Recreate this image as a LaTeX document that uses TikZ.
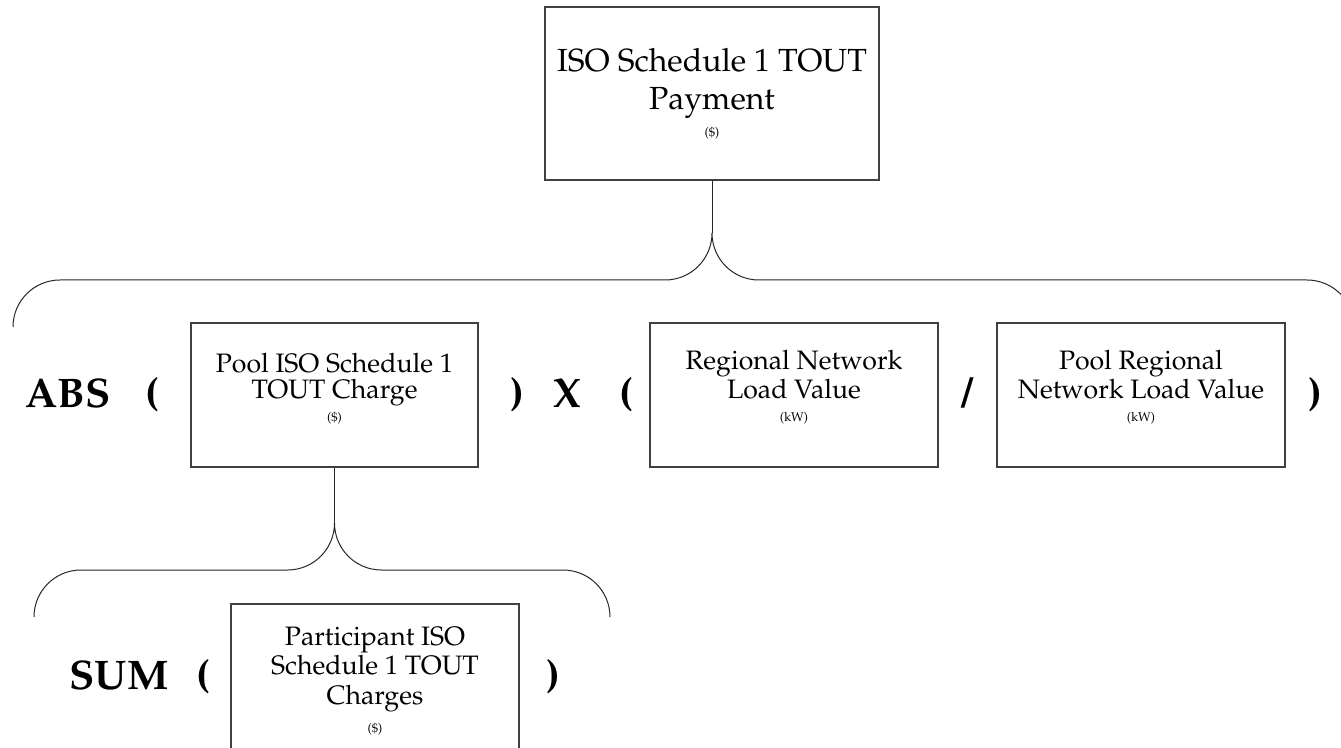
\documentclass[tikz,border=0pt]{standalone}
\usepackage[T1]{fontenc}
\usepackage{mathpazo}
\begin{document}
\begin{tikzpicture}[x=0.75pt,y=-0.75pt,
  box/.style={draw=black!75, line width=0.8pt, inner sep=0pt},
  bigtxt/.style={anchor=base, align=center, inner sep=0pt, font=\fontsize{24}{28.5}\selectfont},
  midtxt/.style={anchor=base, align=center, inner sep=0pt, font=\fontsize{20}{19}\selectfont},
  partxt/.style={anchor=base, align=center, inner sep=0pt, font=\fontsize{20}{22}\selectfont},
  unit/.style={anchor=base, inner sep=0pt, font=\fontsize{9.5}{11}\selectfont},
  op/.style={anchor=base, inner sep=0pt, font=\fontsize{31}{31}\selectfont\bfseries},
  link/.style={line width=0.75pt, black!85}]
\useasboundingbox (0,0) rectangle (1341,748);
\clip (0,0) rectangle (1341,748);

% boxes
\node[box, minimum width=250.5pt, minimum height=129.75pt] (top) at (712,93.5) {};
\node[box, minimum width=215.25pt, minimum height=108pt] (pool) at (334.5,395) {};
\node[box, minimum width=216pt, minimum height=108pt] (reg) at (794,395) {};
\node[box, minimum width=216pt, minimum height=108pt] (preg) at (1141,395) {};
\node[box, minimum width=216pt, minimum height=111pt] (part) at (375,678) {};

% texts (base = baseline of last line)
\node[bigtxt] (toptxt) at (712,110) {ISO Schedule 1 TOUT\\Payment};
\node[unit] (topu) at (712,137) {(\$)};
\node[midtxt] (pooltxt) at (334.5,398) {Pool ISO Schedule 1\\TOUT Charge};
\node[unit] (poolu) at (334.5,421) {(\$)};
\node[midtxt] (regtxt) at (794,398) {Regional Network\\Load Value};
\node[unit] (regu) at (794,421) {(kW)};
\node[midtxt] (pregtxt) at (1141,398) {Pool Regional\\Network Load Value};
\node[unit] (pregu) at (1141,421) {(kW)};
\node[partxt] (parttxt) at (375,704) {Participant ISO\\Schedule 1 TOUT\\Charges};
\node[unit] (partu) at (375,732) {(\$)};

% operators
\node[op] (abs) at (68,407) {ABS};
\node[op] (lp1) at (152,407) {(};
\node[op] (rp1) at (517,407) {)};
\node[op] (times) at (567,407) {X};
\node[op] (lp2) at (626,407) {(};
\node[op] (div) at (968,407) {/};
\node[op] (rp2) at (1315,407) {)};
\node[op] (sum) at (119,689) {SUM};
\node[op] (lp3) at (203,689) {(};
\node[op] (rp3) at (553,689) {)};

% connectors and braces
\coordinate (c1) at (712,233);
\coordinate (c2) at (334.5,523);
\draw[link] (top.south) -- (c1);
\draw[link] (13,327) .. controls (13,301) and (34,280) .. (60,280) -- (665,280)
  .. controls (691,280) and (712,259) .. (c1)
  .. controls (712,259) and (733,280) .. (759,280) -- (1307,280)
  .. controls (1333,280) and (1354,301) .. (1354,327);
\draw[link] (pool.south) -- (c2);
\draw[link] (34,617) .. controls (34,591) and (55,570) .. (81,570) -- (287.5,570)
  .. controls (313.5,570) and (334.5,549) .. (c2)
  .. controls (334.5,549) and (355.5,570) .. (381.5,570) -- (563,570)
  .. controls (589,570) and (610,591) .. (610,617);
\end{tikzpicture}
\end{document}
